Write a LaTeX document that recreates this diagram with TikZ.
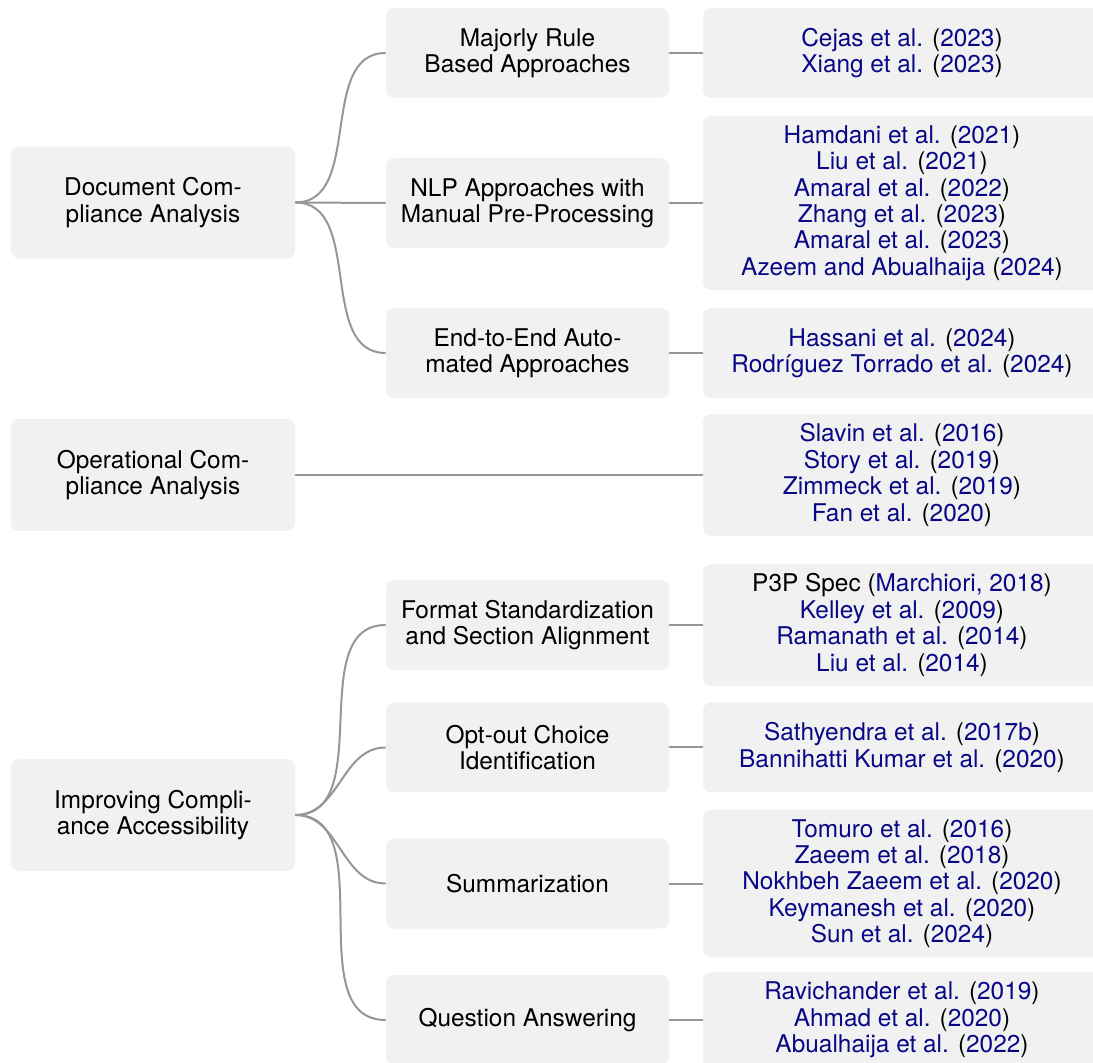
\documentclass[tikz,border=0pt]{standalone}
\usepackage{fontspec}
\setmainfont{TeX Gyre Heros}
\definecolor{boxfill}{RGB}{241,241,241}
\definecolor{edgegray}{RGB}{150,150,150}
\definecolor{citeblue}{RGB}{8,8,135}
\newcommand{\ct}[2]{\textcolor{citeblue}{#1} (\textcolor{citeblue}{#2})}
\begin{document}
\begin{tikzpicture}[x=0.5pt,y=-0.5pt,
  box/.style={fill=boxfill, rounded corners=4pt, align=center,
    font=\fontsize{12.2pt}{13.2pt}\selectfont, inner xsep=0pt, inner ysep=4.8pt},
  rootbox/.style={box, minimum width=142pt, minimum height=56pt},
  midbox/.style={box, minimum width=141.5pt, minimum height=45pt},
  refbox/.style={box, minimum width=199pt, minimum height=45pt},
  link/.style={draw=edgegray, line width=1pt},
]
\useasboundingbox (0,0) rectangle (1093,1063);

% roots
\node[rootbox] (r1) at (153,202.5) {Document Com-\\pliance Analysis};
\node[rootbox] (r2) at (153,475) {Operational Com-\\pliance Analysis};
\node[rootbox] (r3) at (153,815) {Improving Compli-\\ance Accessibility};

% middle
\node[midbox] (m1) at (527.5,53) {Majorly Rule\\Based Approaches};
\node[midbox] (m2) at (527.5,203) {NLP Approaches with\\Manual Pre-Processing};
\node[midbox] (m3) at (527.5,353) {End-to-End Auto-\\mated Approaches};
\node[midbox] (m4) at (527.5,625) {Format Standardization\\and Section Alignment};
\node[midbox] (m5) at (527.5,747.5) {Opt-out Choice\\Identification};
\node[midbox] (m6) at (527.5,883.5) {Summarization};
\node[midbox] (m7) at (527.5,1020) {Question Answering};

% references
\node[refbox] (f1) at (902,53) {\ct{Cejas et al.}{2023}\\\ct{Xiang et al.}{2023}};
\node[refbox] (f2) at (902,203) {\ct{Hamdani et al.}{2021}\\\ct{Liu et al.}{2021}\\\ct{Amaral et al.}{2022}\\\ct{Zhang et al.}{2023}\\\ct{Amaral et al.}{2023}\\\ct{Azeem and Abualhaija}{2024}};
\node[refbox] (f3) at (902,353) {\ct{Hassani et al.}{2024}\\\ct{Rodríguez Torrado et al.}{2024}};
\node[refbox] (f4) at (902,475) {\ct{Slavin et al.}{2016}\\\ct{Story et al.}{2019}\\\ct{Zimmeck et al.}{2019}\\\ct{Fan et al.}{2020}};
\node[refbox] (f5) at (902,625) {P3P Spec (\textcolor{citeblue}{Marchiori, 2018})\\\ct{Kelley et al.}{2009}\\\ct{Ramanath et al.}{2014}\\\ct{Liu et al.}{2014}};
\node[refbox] (f6) at (902,747.5) {\ct{Sathyendra et al.}{2017b}\\\ct{Bannihatti Kumar et al.}{2020}};
\node[refbox] (f7) at (902,883.5) {\ct{Tomuro et al.}{2016}\\\ct{Zaeem et al.}{2018}\\\ct{Nokhbeh Zaeem et al.}{2020}\\\ct{Keymanesh et al.}{2020}\\\ct{Sun et al.}{2024}};
\node[refbox] (f8) at (902,1020) {\ct{Ravichander et al.}{2019}\\\ct{Ahmad et al.}{2020}\\\ct{Abualhaija et al.}{2022}};

% curved edges root -> middle
\foreach \r/\m in {r1/m1, r1/m2, r1/m3, r3/m4, r3/m5, r3/m6, r3/m7}
  \draw[link] (\r.east) to[out=0,in=180] (\m.west);

% straight edges
\draw[link] (r2.east) -- (f4.west);
\foreach \m/\f in {m1/f1, m2/f2, m3/f3, m4/f5, m5/f6, m6/f7, m7/f8}
  \draw[link] (\m.east) -- (\f.west);
\end{tikzpicture}
\end{document}
